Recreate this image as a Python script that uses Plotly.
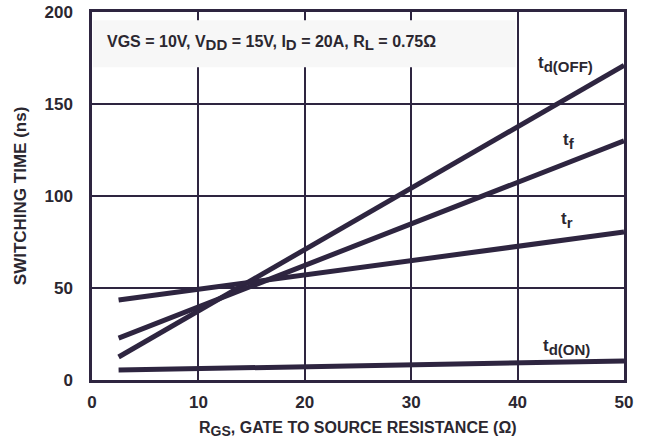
import plotly.graph_objects as go

rgs = [2.5, 50]
td_off = [12.5, 171]
t_f = [22.8, 130]
t_r = [43.5, 80.4]
td_on = [5.4, 10.3]

x_ticks = [0, 10, 20, 30, 40, 50]
y_ticks = [0, 50, 100, 150, 200]

C = "#2e2540"
TXT = "#2b2730"
FONT = "Liberation Sans"


def sub(s, size):
    return '<sub><span style="font-size:%dpx">%s</span></sub>' % (size, s)


fig = go.Figure()
for y in [td_off, t_f, t_r, td_on]:
    fig.add_trace(go.Scatter(x=rgs, y=y, mode="lines",
                             line=dict(color=C, width=5), showlegend=False,
                             hoverinfo="skip"))

labels = [
    ("t" + sub("d(OFF)", 15), 44.5, 172),
    ("t" + sub("f", 15), 44.8, 130),
    ("t" + sub("r", 15), 44.6, 87),
    ("t" + sub("d(ON)", 15), 44.6, 18),
]
anns = []
for t, x, y in labels:
    anns.append(dict(x=x, y=y, text="<b>" + t + "</b>", showarrow=False,
                     font=dict(family=FONT, size=17, color=TXT)))
anns.append(dict(x=1.2, y=183, xanchor="left",
                 text="<b>VGS = 10V, V" + sub("DD", 15) + " = 15V, I" + sub("D", 15)
                      + " = 20A, R" + sub("L", 15) + " = 0.75Ω</b>",
                 showarrow=False, font=dict(family=FONT, size=16, color=TXT)))
# axis titles
anns.append(dict(xref="paper", yref="paper", x=0.5, y=-0.1, yanchor="top",
                 text="<b>R" + sub("GS", 14) + ", GATE TO SOURCE RESISTANCE (Ω)</b>",
                 showarrow=False, font=dict(family=FONT, size=16, color=TXT)))
anns.append(dict(xref="paper", yref="paper", x=-0.135, y=0.5, textangle=-90,
                 xanchor="center", yanchor="middle",
                 text="<b>SWITCHING TIME (ns)</b>",
                 showarrow=False, font=dict(family=FONT, size=17, color=TXT)))

fig.update_layout(
    width=647, height=443,
    margin=dict(l=92, r=23, t=12, b=63),
    paper_bgcolor="white", plot_bgcolor="white",
    annotations=anns,
    shapes=[dict(type="rect", xref="x", yref="y", x0=0.1, x1=39.8, y0=170, y1=195.5,
                 fillcolor="#f7f7f7", line=dict(width=0), layer="between")],
    font=dict(family=FONT, color=TXT),
)
fig.update_xaxes(range=[0, 50], tickvals=x_ticks, ticktext=["<b>%d</b>" % v for v in x_ticks],
                 showgrid=True, gridcolor=C, gridwidth=2, zeroline=False,
                 showline=True, linecolor=C, linewidth=2.5, mirror=True,
                 tickfont=dict(family=FONT, size=17, color=TXT),
                 ticks="outside", ticklen=5, tickcolor="rgba(0,0,0,0)",
                 automargin=False)
fig.update_yaxes(range=[0, 200], tickvals=y_ticks, ticktext=["<b>%d</b>" % v for v in y_ticks],
                 showgrid=True, gridcolor=C, gridwidth=2, zeroline=False,
                 showline=True, linecolor=C, linewidth=2.5, mirror=True,
                 tickfont=dict(family=FONT, size=17, color=TXT),
                 ticks="outside", ticklen=13, tickcolor="rgba(0,0,0,0)",
                 automargin=False)

fig.write_html("out.html", post_script="document.body.style.margin='0';",
               config={"displayModeBar": False})
